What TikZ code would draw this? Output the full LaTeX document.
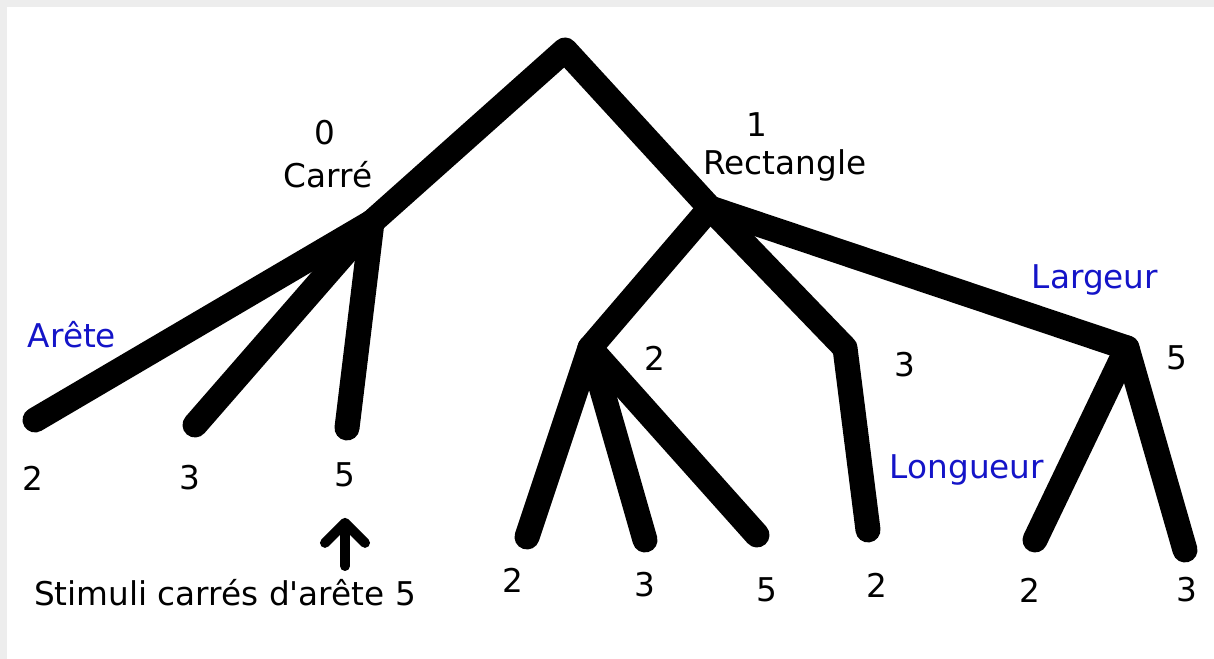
\documentclass[tikz,border=0pt]{standalone}
\usepackage{fontspec}
\newfontfamily\sansdroit{DejaVu Sans}
\usetikzlibrary{arrows.meta}
\definecolor{bleu}{RGB}{20,20,200}
\tikzset{
  branche/.style={line width=0.25cm, line cap=round, line join=round},
  etiq/.style={font=\sansdroit\fontsize{9.3}{11}\selectfont, inner sep=0pt},
  attr/.style={etiq, text=bleu},
  fleche/.style={line width=0.1cm, line cap=round, -{Straight Barb[length=2mm,width=4mm,round]}},
}

\begin{document}
\begin{tikzpicture}[x=0.01cm, y=-0.01cm]
		%%%%% START %%%%%
		
		\fill[black!7] (0,0) rectangle (1214,659);
		\fill[white] (7,7) rectangle (1214,659);
		\useasboundingbox (0,0) rectangle (1214,659);
		
		% arbre
		\coordinate (racine) at (565,50);
		\coordinate (carre) at (372,222);
		\coordinate (rect) at (710,208);
		\coordinate (a2) at (35,420);
		\coordinate (a3) at (195,425);
		\coordinate (a5) at (347,428);
		\coordinate (l2) at (590,348);
		\coordinate (l3) at (845,348);
		\coordinate (l5) at (1127,348);
		\coordinate (l2a) at (527,537);
		\coordinate (l2b) at (645,540);
		\coordinate (l2c) at (757,535);
		\coordinate (l3a) at (868,530);
		\coordinate (l5a) at (1035,540);
		\coordinate (l5b) at (1185,550);
		
		\draw[branche] (carre) -- (racine) -- (rect);
		\draw[branche] (a2) -- (carre);
		\draw[branche] (a3) -- (carre);
		\draw[branche] (a5) -- (carre);
		\draw[branche] (rect) -- (l2);
		\draw[branche] (rect) -- (l3) -- (l3a);
		\draw[branche] (rect) -- (l5);
		\draw[branche] (l2a) -- (l2) -- (l2c);
		\draw[branche] (l2) -- (l2b);
		\draw[branche] (l5a) -- (l5) -- (l5b);
		
		% valeurs
		\node[etiq] (zero) at (325,133) {0};
		\node[etiq] (nomcarre) at (328,175) {Carré};
		\node[etiq] (un) at (757,125) {1};
		\node[etiq] (nomrect) at (785,165) {Rectangle};
		\node[etiq] (v2) at (655,358) {2};
		\node[etiq] (v3) at (905,365) {3};
		\node[etiq] (v5) at (1177,358) {5};
		
		\node[attr] (arete) at (72,335) {Arête};
		\node[attr] (largeur) at (1095,280) {Largeur};
		\node[attr] (longueur) at (967,470) {Longueur};
		
		\node[etiq] (f2) at (33,478) {2};
		\node[etiq] (f3) at (190,478) {3};
		\node[etiq] (f5) at (345,475) {5};
		\node[etiq] (g2a) at (513,580) {2};
		\node[etiq] (g2b) at (645,585) {3};
		\node[etiq] (g2c) at (767,590) {5};
		\node[etiq] (g3a) at (877,585) {2};
		\node[etiq] (g5a) at (1030,590) {2};
		\node[etiq] (g5b) at (1187,590) {3};
		
		% stimuli
		\node[etiq] (stimuli) at (225,593) {Stimuli carrés d'arête 5};
		\coordinate (pied) at (345,566);
		\draw[fleche, shorten >=0.3cm] (pied) -- (f5);
		
		%%%%% END %%%%%
	\end{tikzpicture}
\end{document}
